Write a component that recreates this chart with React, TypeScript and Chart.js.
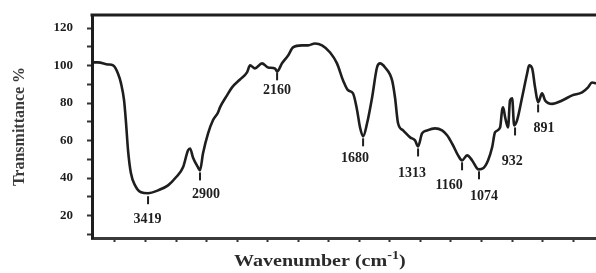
import React, { useEffect, useRef } from 'react';
import { Chart, registerables } from 'chart.js';

Chart.register(...registerables);

// Spectrum trace (x: wavenumber position on the plot's linear axis, y: transmittance %)
const wavenumber = [
  3950, 3911, 3845, 3812, 3780, 3760, 3740, 3727, 3714, 3695, 3668, 3629, 3583, 3518, 3452, 3400,
  3354, 3321, 3308, 3289, 3256, 3243, 3223, 3190, 3158, 3125, 3112, 3066, 3033, 2981, 2935, 2915,
  2883, 2837, 2797, 2752, 2738, 2706, 2666, 2634, 2575, 2535, 2490, 2444, 2391, 2346, 2306, 2273,
  2241, 2214, 2195, 2175, 2149, 2116, 2084, 2064, 2031, 1985, 1966, 1946, 1913, 1867, 1835, 1815,
  1789, 1756, 1704, 1658, 1625, 1586, 1553, 1527, 1494, 1461, 1429, 1416, 1389, 1357, 1330, 1311,
  1278, 1265, 1258, 1245, 1226, 1213, 1199, 1186, 1167, 1134, 1101, 1088, 1068, 1049, 1029, 1003,
  983, 937, 872, 806, 741, 702, 676, 650,
];
const transmittance = [
  101.7, 101.7, 100.6, 100.1, 95.8, 90.5, 81.4, 69.2, 54.8, 42.5, 36.1, 32.4, 31.9, 33.4, 36.1, 40.4,
  45.7, 54.8, 55.8, 51.0, 45.7, 44.1, 53.2, 63.8, 70.8, 75.0, 77.7, 84.1, 88.4, 92.6, 96.4, 100.1,
  98.5, 101.2, 99.0, 98.5, 96.9, 101.2, 105.4, 109.7, 110.8, 110.8, 111.8, 110.8, 107.0, 101.2, 92.1, 86.8,
  85.2, 76.1, 67.0, 62.2, 69.2, 83.0, 99.0, 101.2, 99.0, 92.1, 83.0, 69.2, 65.4, 61.7, 60.1, 56.9,
  63.8, 65.4, 66.5, 65.4, 62.8, 57.4, 52.1, 49.4, 52.1, 49.4, 45.2, 44.6, 45.2, 49.4, 56.4, 64.4,
  67.0, 76.1, 77.7, 72.4, 67.0, 81.4, 82.5, 68.1, 70.8, 83.0, 95.8, 100.1, 98.5, 88.4, 80.4, 85.2,
  81.4, 79.6, 81.4, 84.1, 85.7, 88.4, 91.0, 90.5,
];

// Peak annotations
const peakLabels = ['3419', '2900', '2160', '1680', '1313', '1160', '1074', '932', '891'];
const peakMarkX = [3583, 3243, 2738, 2175, 1815, 1527, 1416, 1180, 1029];
const peakMarkY = [30.3, 43.0, 96.4, 61.2, 55.8, 48.4, 43.6, 67.0, 79.3];
const peakTextX = [3587, 3203, 2738, 2228, 1854, 1612, 1383, 1199, 990];
const peakTextY = [18.0, 31.3, 86.8, 50.5, 42.5, 36.1, 30.2, 48.9, 66.5];

// Axis settings
const yTickLabels = [20, 40, 60, 80, 100, 120];
const yMin = 8;
const yMax = 127;
const xMin = 650;
const xMax = 3950;
const yTitle = 'Transmittance %';
const xTitleMain = 'Wavenumber (cm';
const xTitleSup = '-1';
const xTitleEnd = ')';

const SERIF = '"Liberation Serif", "Times New Roman", serif';
const INK = '#1e1e1e';

const framePlugin = {
  id: 'frameTop',
  afterDraw(chart: any) {
    const { ctx, chartArea } = chart;
    ctx.save();
    ctx.strokeStyle = INK;
    ctx.lineWidth = 3;
    ctx.beginPath();
    ctx.moveTo(chartArea.left - 1.5, chartArea.top);
    ctx.lineTo(chartArea.right, chartArea.top);
    ctx.stroke();
    ctx.restore();
  },
};

const peakPlugin = {
  id: 'peakLabels',
  afterDatasetsDraw(chart: any) {
    const { ctx } = chart;
    const xs = chart.scales.x;
    const ys = chart.scales.y;
    ctx.save();
    ctx.strokeStyle = INK;
    ctx.fillStyle = INK;
    ctx.lineWidth = 2;
    peakLabels.forEach((lab, i) => {
      const mx = xs.getPixelForValue(peakMarkX[i]);
      const my = ys.getPixelForValue(peakMarkY[i]);
      ctx.beginPath();
      ctx.moveTo(mx, my);
      ctx.lineTo(mx, my + 8);
      ctx.stroke();
      ctx.font = `bold 14px ${SERIF}`;
      ctx.textAlign = 'center';
      ctx.textBaseline = 'middle';
      ctx.fillText(lab, xs.getPixelForValue(peakTextX[i]), ys.getPixelForValue(peakTextY[i]));
    });
    ctx.restore();
  },
};

const xTitlePlugin = {
  id: 'xTitle',
  afterDraw(chart: any) {
    const { ctx, chartArea } = chart;
    ctx.save();
    ctx.fillStyle = '#2a2a2a';
    ctx.textBaseline = 'alphabetic';
    ctx.textAlign = 'left';
    const mainFont = `bold 17px ${SERIF}`;
    const supFont = `bold 12px ${SERIF}`;
    const stretch = 1.18;
    ctx.font = mainFont;
    const w1 = ctx.measureText(xTitleMain).width;
    const w3 = ctx.measureText(xTitleEnd).width;
    ctx.font = supFont;
    const w2 = ctx.measureText(xTitleSup).width;
    const total = (w1 + w2 + w3) * stretch;
    const cx = chartArea.left + (chartArea.right - chartArea.left) * 0.452;
    const baseY = chartArea.bottom + 28;
    ctx.translate(cx - total / 2, baseY);
    ctx.scale(stretch, 1);
    let x = 0;
    ctx.font = mainFont;
    ctx.fillText(xTitleMain, x, 0);
    x += w1;
    ctx.font = supFont;
    ctx.fillText(xTitleSup, x, -7);
    x += w2;
    ctx.font = mainFont;
    ctx.fillText(xTitleEnd, x, 0);
    ctx.restore();
  },
};

export default function App() {
  const ref = useRef<HTMLCanvasElement | null>(null);

  useEffect(() => {
    if (!ref.current) return;
    const points = wavenumber.map((w, i) => ({ x: w, y: transmittance[i] }));
    const chart = new Chart(ref.current, {
      type: 'line',
      data: {
        datasets: [
          {
            data: points,
            borderColor: INK,
            borderWidth: 2.6,
            pointRadius: 0,
            fill: false,
            cubicInterpolationMode: 'monotone',
          },
        ],
      },
      options: {
        responsive: false,
        animation: false,
        layout: { padding: { top: 15, right: 0, left: 0, bottom: 0 } },
        plugins: {
          legend: { display: false },
          tooltip: { enabled: false },
        },
        scales: {
          x: {
            type: 'linear',
            reverse: true,
            min: xMin,
            max: xMax,
            afterBuildTicks: (s: any) => {
              s.ticks = s.ticks.filter((t: any) => t.value % 200 === 0);
            },
            afterFit: (s: any) => {
              s.height = 35;
              s.paddingLeft = 0;
              s.paddingRight = 0;
            },
            ticks: {
              stepSize: 200,
              includeBounds: false,
              callback: () => '',
              padding: 0,
              autoSkip: false,
              maxRotation: 0,
            },
            grid: {
              display: true,
              drawOnChartArea: false,
              drawTicks: true,
              tickLength: 4,
              tickWidth: 2,
              tickColor: '#333',
            },
            border: { display: true, color: '#3a3a3a', width: 3 },
          },
          y: {
            type: 'linear',
            min: yMin,
            max: yMax,
            afterBuildTicks: (s: any) => {
              s.ticks = s.ticks.filter((t: any) => t.value % 10 === 0);
            },
            afterFit: (s: any) => {
              s.width = 92;
              s.paddingTop = 0;
              s.paddingBottom = 0;
            },
            ticks: {
              stepSize: 10,
              includeBounds: false,
              padding: 14,
              autoSkip: false,
              color: INK,
              font: { family: SERIF, size: 13, weight: 'bold' },
              callback: (v: any) => (yTickLabels.includes(Number(v)) ? String(v) : ''),
            },
            grid: {
              display: true,
              drawOnChartArea: false,
              drawTicks: true,
              tickLength: 5,
              tickWidth: 2,
              tickColor: '#333',
            },
            border: { display: true, color: INK, width: 3 },
            title: {
              display: true,
              text: yTitle,
              color: '#3a3a3a',
              font: { family: SERIF, size: 16, weight: 'bold' },
              padding: { top: 10, bottom: 0 },
            },
          },
        },
      },
      plugins: [framePlugin, peakPlugin, xTitlePlugin],
    });
    return () => chart.destroy();
  }, []);

  return (
    <div style={{ position: 'absolute', left: 0, top: 0, width: 596, height: 273, background: '#fff' }}>
      <canvas ref={ref} width={596} height={273} style={{ display: 'block' }} />
    </div>
  );
}
